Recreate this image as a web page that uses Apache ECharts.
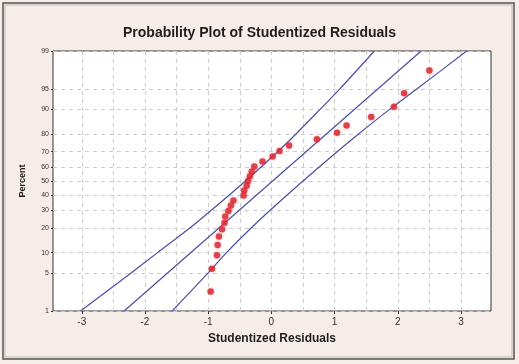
<!DOCTYPE html>
<html><head><meta charset="utf-8">
<script src="https://cdn.jsdelivr.net/npm/echarts@6/dist/echarts.min.js"></script>
<style>html,body{margin:0;padding:0;background:#f6ece8}#c{width:519px;height:364px}</style>
</head><body><div id="c"></div>
<script>
// ---- data ----
const xTicks = [-3, -2, -1, 0, 1, 2, 3];
const xGrid = [-3, -2.5, -2, -1.5, -1, -0.5, 0, 0.5, 1, 1.5, 2, 2.5, 3];
const pTicks = [1, 5, 10, 20, 30, 40, 50, 60, 70, 80, 90, 95, 99];

const residX = [-0.96, -0.94, -0.86, -0.85, -0.83, -0.78, -0.74, -0.73, -0.68, -0.64,
                -0.60, -0.44, -0.43, -0.39, -0.37, -0.34, -0.31, -0.27, -0.14, 0.02,
                0.13, 0.28, 0.72, 1.04, 1.19, 1.58, 1.94, 2.10, 2.50];
const residP = [2.4, 5.8, 9.2, 12.6, 16.0, 19.4, 22.8, 26.2, 29.6, 33.0,
                36.4, 39.8, 43.2, 46.6, 50.0, 53.4, 56.8, 60.2, 63.6, 67.0,
                70.4, 73.8, 77.2, 80.6, 84.0, 87.4, 90.8, 94.2, 97.6];

const fitX = [-2.33, 2.37];
const fitP = [1, 99];

const bandP  = [1, 5, 10, 20, 30, 50, 70, 80, 90, 95, 99];
const lowerX = [-3.02, -2.22, -1.80, -1.29, -0.95, -0.41, 0.10, 0.39, 0.77, 1.08, 1.63];
const upperX = [-1.57, -1.00, -0.71, -0.32, -0.02, 0.50, 1.04, 1.38, 1.87, 2.30, 3.09];

// ---- normal probability scale (axis transform) ----
function normInv(p) {
  const a = [-3.969683028665376e+01, 2.209460984245205e+02, -2.759285104469687e+02, 1.383577518672690e+02, -3.066479806614716e+01, 2.506628277459239e+00];
  const b = [-5.447609879822406e+01, 1.615858368580409e+02, -1.556989798598866e+02, 6.680131188771972e+01, -1.328068155288572e+01];
  const c = [-7.784894002430293e-03, -3.223964580411365e-01, -2.400758276141423e+00, -2.549732539343734e+00, 4.374664141464968e+00, 2.938163982698783e+00];
  const d = [7.784695709041462e-03, 3.224671290700398e-01, 2.445134137142996e+00, 3.754408661907416e+00];
  const plow = 0.02425, phigh = 1 - plow;
  let q, r;
  if (p < plow) {
    q = Math.sqrt(-2 * Math.log(p));
    return (((((c[0]*q+c[1])*q+c[2])*q+c[3])*q+c[4])*q+c[5]) / ((((d[0]*q+d[1])*q+d[2])*q+d[3])*q+1);
  } else if (p <= phigh) {
    q = p - 0.5; r = q * q;
    return (((((a[0]*r+a[1])*r+a[2])*r+a[3])*r+a[4])*r+a[5])*q / (((((b[0]*r+b[1])*r+b[2])*r+b[3])*r+b[4])*r+1);
  } else {
    q = Math.sqrt(-2 * Math.log(1 - p));
    return -(((((c[0]*q+c[1])*q+c[2])*q+c[3])*q+c[4])*q+c[5]) / ((((d[0]*q+d[1])*q+d[2])*q+d[3])*q+1);
  }
}
const zOf = p => normInv(p / 100);
const yTickVals = pTicks.map(zOf);
const yLabelMap = {};
pTicks.forEach((p, i) => { yLabelMap[yTickVals[i].toFixed(5)] = String(p); });

const lineColor = '#4d4da6';
const gridLineStyle = { color: '#cccccc', width: 1, type: [4, 4] };
const xMin = -3.455, xMax = 3.475;

const chart = echarts.init(document.getElementById('c'), null, { renderer: 'canvas' });
chart.setOption({
  animation: false,
  backgroundColor: '#f6ece8',
  title: {
    text: 'Probability Plot of Studentized Residuals',
    left: 'center', top: 21,
    textStyle: { fontFamily: 'Liberation Sans', fontWeight: 'bold', fontSize: 14, color: '#1e1e1e' }
  },
  graphic: [
    { type: 'rect', shape: { x: 3, y: 3, width: 511, height: 356 }, style: { fill: 'none', stroke: '#555', lineWidth: 1.5 }, silent: true },
    { type: 'rect', shape: { x: 5, y: 5, width: 507, height: 352 }, style: { fill: 'none', stroke: '#bbb', lineWidth: 1 }, silent: true }
  ],
  grid: {
    left: 53, top: 51, right: 28, bottom: 53,
    show: true, backgroundColor: '#ffffff', borderColor: '#333', borderWidth: 1
  },
  xAxis: [
    {
      type: 'value', min: xMin, max: xMax, position: 'bottom',
      name: 'Studentized Residuals', nameLocation: 'middle', nameGap: 22,
      nameTextStyle: { fontFamily: 'Liberation Sans', fontWeight: 'bold', fontSize: 12, color: '#1e1e1e' },
      axisLine: { show: false, onZero: false },
      axisTick: { show: true, length: 3, customValues: xTicks, lineStyle: { color: '#333' } },
      axisLabel: { customValues: xTicks, fontFamily: 'Liberation Sans', fontSize: 10, color: '#333', margin: 6 },
      splitLine: { show: false }
    },
    {
      type: 'value', min: xMin, max: xMax, position: 'bottom',
      axisLine: { show: false, onZero: false },
      axisTick: { show: false, customValues: xGrid },
      axisLabel: { show: false, customValues: xGrid },
      splitLine: { show: true, lineStyle: gridLineStyle }
    }
  ],
  yAxis: {
    type: 'value', min: zOf(1), max: zOf(99),
    name: 'Percent', nameLocation: 'middle', nameGap: 26, nameRotate: 90,
    nameTextStyle: { fontFamily: 'Liberation Sans', fontWeight: 'bold', fontSize: 9, color: '#1e1e1e' },
    axisLine: { show: false, onZero: false },
    axisTick: { show: true, length: 2, customValues: yTickVals, lineStyle: { color: '#333' } },
    axisLabel: {
      customValues: yTickVals, fontFamily: 'Liberation Sans', fontSize: 7, color: '#333', margin: 4,
      formatter: v => yLabelMap[v.toFixed(5)] || ''
    },
    splitLine: { show: true, lineStyle: gridLineStyle }
  },
  series: [
    {
      type: 'line', z: 2, showSymbol: false, silent: true,
      lineStyle: { color: lineColor, width: 1.2 },
      data: fitX.map((x, i) => [x, zOf(fitP[i])])
    },
    {
      type: 'line', z: 2, showSymbol: false, silent: true, smooth: 0.3,
      lineStyle: { color: lineColor, width: 1.2 },
      data: lowerX.map((x, i) => [x, zOf(bandP[i])])
    },
    {
      type: 'line', z: 2, showSymbol: false, silent: true, smooth: 0.3,
      lineStyle: { color: lineColor, width: 1.2 },
      data: upperX.map((x, i) => [x, zOf(bandP[i])])
    },
    {
      type: 'scatter', z: 3, symbolSize: 6.5,
      itemStyle: { color: '#d8222c', shadowBlur: 3, shadowColor: 'rgba(240,90,100,0.6)' },
      data: residX.map((x, i) => [x, zOf(residP[i])])
    }
  ]
});
</script>
</body></html>
